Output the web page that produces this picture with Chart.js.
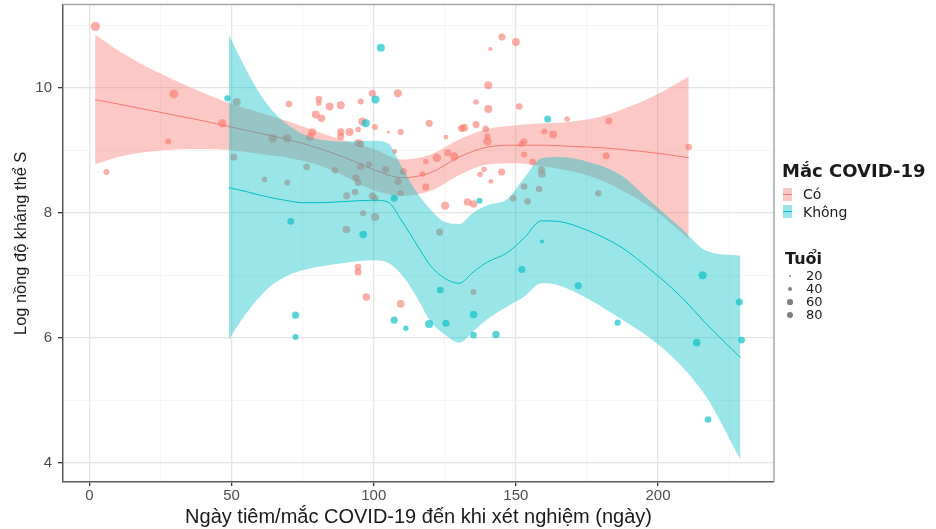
<!DOCTYPE html>
<html>
<head>
<meta charset="utf-8">
<script src="https://cdn.jsdelivr.net/npm/chart.js@4.4.1/dist/chart.umd.min.js"></script>
<style>
  body { margin: 0; background: #fff; }
  #wrap { position: relative; width: 936px; height: 529px; }
  .lg { position: absolute; font-family: "DejaVu Sans", sans-serif; color: #1a1a1a; white-space: nowrap; }
  .key { position: absolute; width: 9px; height: 13px; }
  .key i { position: absolute; left: 0; right: 0; top: 6px; height: 1px; }
  .dot { position: absolute; border-radius: 50%; background: rgba(0,0,0,0.5); }
</style>
</head>
<body>
<div id="wrap">
  <canvas id="chart" width="936" height="529"></canvas>
</div>
<script>
// scatter points, group "Có" (x = days, y = log antibody, age -> point size)
const coX = [2.1, 29.7, 27.7, 6.0, 46.7, 51.8, 50.8, 61.6, 69.6, 64.5, 69.6, 70.2,
  145.1, 141.0, 140.3, 140.3, 136.0, 136.0, 131.8, 130.9, 139.4, 140.0, 140.0, 145.0,
  141.2, 137.4, 138.8, 135.1, 133.0, 125.1, 118.3, 117.1, 122.2, 126.0, 128.3, 118.3,
  125.4, 119.5, 107.4, 105.2, 109.5, 100.4, 108.5, 99.5, 96.0, 95.4, 88.4, 84.5,
  80.7, 80.7, 79.6, 81.6, 78.4, 77.6, 88.4, 88.4, 91.5, 94.5, 94.5, 95.4,
  76.4, 86.4, 95.4, 98.3, 104.2, 110.4, 108.6, 93.7, 94.5, 109.5, 93.4, 90.5,
  99.5, 100.5, 96.3, 100.5, 90.4, 123.2, 150.0, 151.2, 168.0, 182.7, 160.0, 163.1,
  152.9, 152.0, 152.9, 210.8, 181.8, 155.9, 159.0, 159.2, 152.9, 158.2, 149.0, 154.1,
  179.0, 94.5, 94.5, 97.4, 109.5, 135.1];
const coY = [10.98, 9.90, 9.14, 8.65, 9.43, 9.77, 8.89, 8.53, 8.48, 9.19, 9.19, 9.74,
  10.81, 10.62, 10.04, 9.66, 9.77, 9.41, 9.36, 9.35, 9.34, 9.22, 9.14, 8.65,
  8.50, 8.61, 8.69, 8.14, 8.17, 8.11, 8.41, 8.62, 8.88, 8.96, 8.90, 8.82,
  9.21, 9.43, 8.98, 9.29, 9.29, 9.37, 9.91, 9.91, 9.46, 9.78, 9.72, 9.70,
  9.82, 9.75, 9.57, 9.51, 9.29, 9.21, 9.29, 9.22, 9.29, 9.33, 9.12, 9.10,
  8.73, 8.68, 8.74, 8.77, 8.69, 8.66, 8.50, 8.56, 8.48, 8.31, 8.33, 8.27,
  8.27, 8.23, 7.99, 7.93, 7.73, 7.69, 10.73, 9.70, 9.50, 9.47, 9.30, 9.25,
  9.14, 9.10, 8.93, 9.05, 8.91, 8.81, 8.69, 8.62, 8.42, 8.38, 8.23, 8.18,
  8.31, 7.13, 7.05, 6.65, 6.54, 6.73];
const coAge = [75, 70, 40, 40, 65, 60, 50, 35, 40, 65, 65, 45,
  50, 25, 60, 60, 35, 50, 60, 50, 45, 40, 65, 50,
  30, 35, 35, 55, 55, 60, 50, 35, 65, 50, 65, 35,
  30, 50, 30, 20, 40, 40, 60, 50, 60, 40, 60, 60,
  45, 35, 60, 55, 55, 60, 55, 50, 60, 35, 55, 50,
  45, 45, 55, 40, 50, 50, 50, 50, 45, 40, 45, 50,
  50, 45, 40, 60, 55, 50, 60, 45, 35, 50, 40, 60,
  45, 40, 40, 45, 50, 45, 50, 55, 45, 45, 45, 45,
  45, 45, 50, 55, 55, 40];

// scatter points, group "Không"
const khongX = [48.5, 70.8, 102.5, 137.2, 100.6, 97.2, 107.2, 96.3, 161.2, 159.2,
  72.5, 72.5, 107.2, 111.3, 119.5, 125.4, 123.4, 135.1, 135.1, 143.0,
  152.1, 171.9, 185.8, 215.7, 228.6, 229.4, 213.6, 217.6];
const khongY = [9.83, 7.86, 10.64, 8.19, 9.81, 9.43, 8.23, 7.65, 9.50, 7.54,
  6.36, 6.01, 6.28, 6.15, 6.22, 6.23, 6.76, 6.37, 6.04, 6.05,
  7.09, 6.83, 6.24, 7.00, 6.57, 5.96, 5.92, 4.69];
const khongAge = [40, 45, 60, 40, 60, 60, 50, 55, 50, 25,
  50, 40, 50, 35, 60, 50, 45, 55, 45, 55,
  50, 50, 40, 60, 50, 45, 55, 45];

// smoothed fit with confidence band
const coFitX = [2, 10, 20, 30, 40, 50, 60, 70, 80, 90, 100, 110, 120, 130, 140, 150, 160, 170, 180, 190, 200, 210.8];
const coFit = [9.81, 9.74, 9.65, 9.56, 9.47, 9.37, 9.27, 9.17, 9.04, 8.88, 8.69, 8.56, 8.64, 8.89, 9.05, 9.08, 9.08, 9.06, 9.04, 9.00, 8.95, 8.88];
const coHi = [10.85, 10.60, 10.34, 10.12, 9.92, 9.74, 9.60, 9.46, 9.30, 9.15, 9.02, 8.85, 8.93, 9.17, 9.34, 9.40, 9.43, 9.46, 9.54, 9.70, 9.90, 10.18];
const coLo = [8.77, 8.89, 8.97, 9.01, 9.02, 9.00, 8.94, 8.88, 8.77, 8.58, 8.36, 8.27, 8.35, 8.60, 8.77, 8.79, 8.74, 8.66, 8.52, 8.29, 8.00, 7.58];

const khongFitX = [49, 55, 60, 65, 70, 75, 80, 90, 100, 105, 110, 115, 120, 125, 130, 135, 140, 147, 153, 159, 165, 175, 187, 197, 208, 217, 229];
const khongFit = [8.40, 8.34, 8.28, 8.23, 8.19, 8.16, 8.16, 8.18, 8.20, 8.17, 7.86, 7.50, 7.15, 6.95, 6.87, 7.05, 7.21, 7.36, 7.60, 7.87, 7.86, 7.72, 7.45, 7.10, 6.66, 6.22, 5.68];
const khongHi = [10.85, 10.30, 9.90, 9.60, 9.40, 9.26, 9.18, 9.14, 9.15, 9.11, 8.72, 8.34, 8.05, 7.85, 7.82, 8.00, 8.12, 8.22, 8.56, 8.87, 8.89, 8.82, 8.60, 8.20, 7.76, 7.39, 7.31];
const khongLo = [5.97, 6.38, 6.66, 6.87, 7.00, 7.08, 7.13, 7.20, 7.24, 7.20, 7.00, 6.66, 6.26, 6.05, 5.92, 6.10, 6.30, 6.50, 6.66, 6.87, 6.84, 6.63, 6.30, 6.00, 5.56, 5.05, 4.05];

// axis ticks and legend entries
const xTicks = [0, 25, 50, 75, 100, 125, 150, 175, 200, 225];
const yTicks = [4, 5, 6, 7, 8, 9, 10, 11];
const groups = ['Có', 'Không'];
const ageBreaks = [20, 40, 60, 80];

const PINK = '#F8766D', TEAL = '#00BFC4';

function ageRadius(age) {
  return Math.sqrt(Math.max(0.2385 * age - 3.08, 1));
}
const pts = (xs, ys) => xs.map((x, i) => ({ x: x, y: ys[i] }));

const NONE = 'rgba(0,0,0,0)';
function band(xs, ys, fill, color, order) {
  return {
    type: 'line', data: pts(xs, ys), borderColor: NONE, borderWidth: 1,
    pointRadius: 0, fill: fill, backgroundColor: color, order: order,
    cubicInterpolationMode: 'monotone'
  };
}

// top and right side of the panel box
const panelBox = {
  id: 'panelBox',
  afterDraw(chart) {
    const { ctx, chartArea: a } = chart;
    ctx.save();
    ctx.strokeStyle = '#a6a6a6';
    ctx.lineWidth = 1.5;
    ctx.beginPath();
    ctx.moveTo(a.left, a.top);
    ctx.lineTo(a.right, a.top);
    ctx.lineTo(a.right, a.bottom);
    ctx.stroke();
    ctx.restore();
  }
};

const major = (ctx, step) => ctx.tick && ctx.tick.value % step === 0;
const tickFont = { family: 'Liberation Sans', size: 15 };

new Chart(document.getElementById('chart'), {
  data: {
    datasets: [
      { type: 'scatter', label: groups[0], data: pts(coX, coY),
        backgroundColor: 'rgba(248,118,109,0.6)', borderWidth: 0, pointBorderWidth: 0,
        pointRadius: c => 1.2 * ageRadius(coAge[c.dataIndex]), order: 6 },
      { type: 'scatter', label: groups[1], data: pts(khongX, khongY),
        backgroundColor: 'rgba(0,191,196,0.65)', borderWidth: 0, pointBorderWidth: 0,
        pointRadius: c => 1.2 * ageRadius(khongAge[c.dataIndex]), order: 5 },
      band(coFitX, coHi, '+1', 'rgba(248,118,109,0.4)', 4),
      band(coFitX, coLo, false, NONE, 4),
      { type: 'line', data: pts(coFitX, coFit), borderColor: PINK, borderWidth: 1,
        pointRadius: 0, fill: false, order: 3, cubicInterpolationMode: 'monotone' },
      band(khongFitX, khongHi, '+1', 'rgba(0,191,196,0.4)', 2),
      band(khongFitX, khongLo, false, NONE, 2),
      { type: 'line', data: pts(khongFitX, khongFit), borderColor: TEAL, borderWidth: 1,
        pointRadius: 0, fill: false, order: 1, cubicInterpolationMode: 'monotone' }
    ]
  },
  options: {
    responsive: false,
    animation: false,
    layout: { padding: { top: 3, right: 162, bottom: 0, left: 0 } },
    plugins: { legend: { display: false }, tooltip: { enabled: false } },
    scales: {
      x: {
        type: 'linear', min: -9.3, max: 240.8,
        afterBuildTicks: s => { s.ticks = xTicks.map(v => ({ value: v })); },
        afterFit: s => { s.height = 47; s.paddingLeft = 0; s.paddingRight = 0; },
        ticks: {
          autoSkip: false, maxRotation: 0, padding: 1, color: '#4d4d4d', font: tickFont,
          callback: v => (v % 50 === 0 ? v : '')
        },
        grid: {
          color: c => (major(c, 50) ? '#e4e4e4' : '#f3f3f3'),
          lineWidth: c => (major(c, 50) ? 1.3 : 0.8),
          tickLength: 4,
          tickColor: c => (major(c, 50) ? '#333333' : NONE)
        },
        border: { color: '#5a5a5a', width: 1.5 },
        title: {
          display: true, text: 'Ngày tiêm/mắc COVID-19 đến khi xét nghiệm (ngày)',
          color: '#1a1a1a', font: { family: 'Liberation Sans', size: 20 },
          padding: { top: 0, bottom: 0 }
        }
      },
      y: {
        type: 'linear', min: 3.69, max: 11.33,
        afterBuildTicks: s => { s.ticks = yTicks.map(v => ({ value: v })); },
        afterFit: s => { s.width = 63; s.paddingTop = 0; s.paddingBottom = 0; },
        ticks: {
          padding: 6, color: '#4d4d4d', font: tickFont,
          callback: v => (v % 2 === 0 ? v : '')
        },
        grid: {
          color: c => (major(c, 2) ? '#e4e4e4' : '#f3f3f3'),
          lineWidth: c => (major(c, 2) ? 1.3 : 0.8),
          tickLength: 5,
          tickColor: c => (major(c, 2) ? '#333333' : NONE)
        },
        border: { color: '#5a5a5a', width: 1.5 },
        title: {
          display: true, text: 'Log nồng độ kháng thể S',
          color: '#1a1a1a', font: { family: 'Liberation Sans', size: 16.4 },
          padding: { top: 12, bottom: 0 }
        }
      }
    }
  },
  plugins: [panelBox]
});

// legend, drawn as html next to the panel
const wrap = document.getElementById('wrap');
function add(cls, css, text) {
  const el = document.createElement('div');
  el.className = cls;
  Object.assign(el.style, css);
  if (text !== undefined) el.textContent = text;
  wrap.appendChild(el);
  return el;
}
add('lg', { left: '782px', top: '161px', fontSize: '18px', fontWeight: 'bold', lineHeight: '20px' }, 'Mắc COVID-19');
const keyFill = ['rgba(248,118,109,0.4)', 'rgba(0,191,196,0.4)'];
const keyLine = [PINK, TEAL];
groups.forEach((g, i) => {
  const k = add('key', { left: '783px', top: (188 + i * 17) + 'px', background: keyFill[i] });
  const ln = document.createElement('i');
  ln.style.background = keyLine[i];
  k.appendChild(ln);
  add('lg', { left: '803px', top: (186 + i * 18) + 'px', fontSize: '14px', lineHeight: '17px' }, g);
});
add('lg', { left: '785px', top: '249px', fontSize: '16px', fontWeight: 'bold', lineHeight: '19px' }, 'Tuổi');
ageBreaks.forEach((a, i) => {
  const cy = 276 + i * 13;
  const r = ageRadius(a) * 0.85;
  add('dot', { left: (790 - r) + 'px', top: (cy - r) + 'px', width: (2 * r) + 'px', height: (2 * r) + 'px' });
  add('lg', { left: '806px', top: (cy - 8) + 'px', fontSize: '13px', lineHeight: '16px' }, String(a));
});
</script>
</body>
</html>
